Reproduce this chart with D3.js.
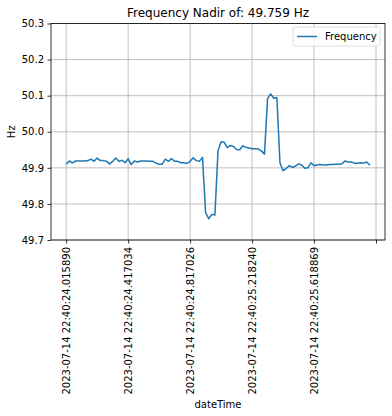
<!DOCTYPE html>
<html>
<head>
<meta charset="utf-8">
<script src="https://cdn.jsdelivr.net/npm/d3@7"></script>
<style>
  body { margin: 0; background: #fff; }
  svg { font-family: "DejaVu Sans", sans-serif; }
</style>
</head>
<body>
<div id="chart"></div>
<script>
// Frequency samples (Hz), one per row of the dataframe
const frequency = [
  49.910, 49.919, 49.914, 49.919, 49.919, 49.919, 49.919, 49.920, 49.924, 49.918,
  49.927, 49.920, 49.920, 49.918, 49.911, 49.918, 49.927, 49.918, 49.921, 49.914,
  49.925, 49.909, 49.919, 49.916, 49.919, 49.919, 49.919, 49.918, 49.918, 49.913,
  49.910, 49.910, 49.924, 49.918, 49.926, 49.918, 49.918, 49.914, 49.914, 49.912,
  49.918, 49.928, 49.920, 49.918, 49.929, 49.776, 49.759, 49.771, 49.769, 49.947,
  49.972, 49.971, 49.956, 49.962, 49.959, 49.951, 49.950, 49.961, 49.957, 49.955,
  49.953, 49.953, 49.952, 49.947, 49.938, 50.092, 50.105, 50.093, 50.095, 49.914,
  49.892, 49.898, 49.906, 49.901, 49.905, 49.911, 49.908, 49.899, 49.900, 49.914,
  49.906, 49.908, 49.909, 49.908, 49.908, 49.909, 49.909, 49.910, 49.910, 49.911,
  49.919, 49.916, 49.916, 49.913, 49.913, 49.914, 49.913, 49.916, 49.907
];

// x ticks sit on row positions, labelled with the dateTime of that row
const tickIndex = [0, 20, 40, 60, 80, 100];
const tickLabels = [
  '2023-07-14 22:40:24.015890',
  '2023-07-14 22:40:24.417034',
  '2023-07-14 22:40:24.817026',
  '2023-07-14 22:40:25.218240',
  '2023-07-14 22:40:25.618869',
  ''
];
const yTicks = [49.7, 49.8, 49.9, 50.0, 50.1, 50.2, 50.3];

const W = 392, H = 416;
const mLeft = 51, mRight = 385, mTop = 23.5, mBottom = 240;
const font = '"DejaVu Sans", sans-serif';

const svg = d3.select('#chart').append('svg')
  .attr('width', W)
  .attr('height', H);

const n = frequency.length;
const pad = (n - 1) * 0.05;
const x = d3.scaleLinear().domain([-pad, n - 1 + pad]).range([mLeft, mRight]);
const y = d3.scaleLinear().domain([49.7, 50.3]).range([mBottom, mTop]);

// grid
svg.append('g')
  .selectAll('line')
  .data(tickIndex)
  .enter().append('line')
  .attr('x1', d => x(d)).attr('x2', d => x(d))
  .attr('y1', mTop).attr('y2', mBottom)
  .attr('stroke', '#b0b0b0').attr('stroke-width', 0.8);

svg.append('g')
  .selectAll('line')
  .data(yTicks)
  .enter().append('line')
  .attr('x1', mLeft).attr('x2', mRight)
  .attr('y1', d => y(d)).attr('y2', d => y(d))
  .attr('stroke', '#b0b0b0').attr('stroke-width', 0.8);

// axes
const xAxis = d3.axisBottom(x)
  .tickValues(tickIndex)
  .tickFormat((d, i) => tickLabels[i])
  .tickSize(3.5)
  .tickPadding(3.5);

const gx = svg.append('g')
  .attr('transform', `translate(0, ${mBottom})`)
  .call(xAxis)
  .attr('font-family', font);
gx.select('.domain').remove();
gx.selectAll('line').attr('stroke', '#000').attr('stroke-width', 0.8);
gx.selectAll('text')
  .attr('font-size', 10)
  .attr('fill', '#000')
  .attr('text-anchor', 'end')
  .attr('transform', 'rotate(-90)')
  .attr('x', -7)
  .attr('y', 0)
  .attr('dy', '0.35em');

const yAxis = d3.axisLeft(y)
  .tickValues(yTicks)
  .tickFormat(d3.format('.1f'))
  .tickSize(3.5)
  .tickPadding(3.5);

const gy = svg.append('g')
  .attr('transform', `translate(${mLeft}, 0)`)
  .call(yAxis)
  .attr('font-family', font);
gy.select('.domain').remove();
gy.selectAll('line').attr('stroke', '#000').attr('stroke-width', 0.8);
gy.selectAll('text').attr('font-size', 10).attr('fill', '#000');

// line
const line = d3.line()
  .x((d, i) => x(i))
  .y(d => y(d));

svg.append('path')
  .datum(frequency)
  .attr('fill', 'none')
  .attr('stroke', '#1f77b4')
  .attr('stroke-width', 1.5)
  .attr('stroke-linejoin', 'round')
  .attr('d', line);

// frame
svg.append('rect')
  .attr('x', mLeft).attr('y', mTop)
  .attr('width', mRight - mLeft).attr('height', mBottom - mTop)
  .attr('fill', 'none')
  .attr('stroke', '#000')
  .attr('stroke-width', 0.8);

// title and labels
svg.append('text')
  .attr('x', (mLeft + mRight) / 2)
  .attr('y', 17)
  .attr('text-anchor', 'middle')
  .attr('font-size', 12)
  .text('Frequency Nadir of: ' + d3.min(frequency).toFixed(3) + ' Hz');

svg.append('text')
  .attr('x', (mLeft + mRight) / 2)
  .attr('y', 408)
  .attr('text-anchor', 'middle')
  .attr('font-size', 10)
  .text('dateTime');

svg.append('text')
  .attr('transform', `translate(15, ${(mTop + mBottom) / 2}) rotate(-90)`)
  .attr('text-anchor', 'middle')
  .attr('font-size', 10)
  .text('Hz');

// legend
const legend = svg.append('g').attr('transform', `translate(${mRight - 92}, ${mTop + 3.5})`);
legend.append('rect')
  .attr('width', 87).attr('height', 19)
  .attr('rx', 2)
  .attr('fill', '#fff').attr('fill-opacity', 0.8)
  .attr('stroke', '#d6d6d6').attr('stroke-width', 0.8);
legend.append('line')
  .attr('x1', 4).attr('x2', 24)
  .attr('y1', 9.5).attr('y2', 9.5)
  .attr('stroke', '#1f77b4').attr('stroke-width', 1.5);
legend.append('text')
  .attr('x', 32).attr('y', 13)
  .attr('font-size', 10)
  .text('Frequency');
</script>
</body>
</html>
